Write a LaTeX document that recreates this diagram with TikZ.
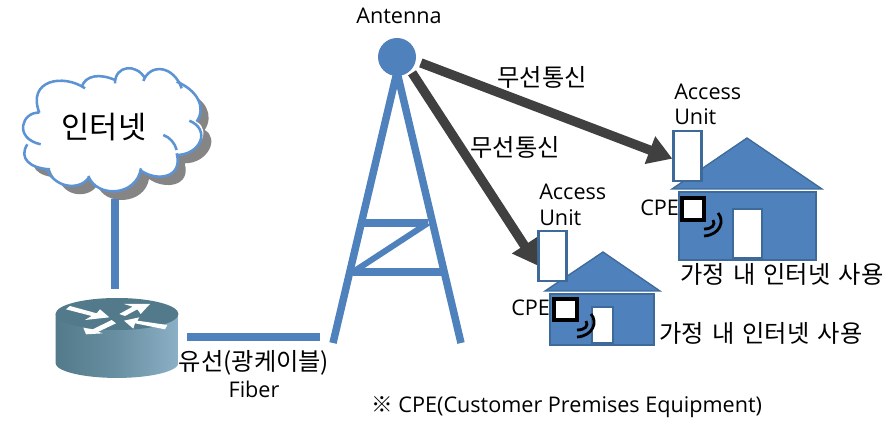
\documentclass[tikz,border=0pt]{standalone}
\usepackage{fontspec}
\setmainfont{Open Sans}
\newfontfamily\kr[WordSpace=1.5]{Noto Sans CJK KR}
\usetikzlibrary{arrows.meta,shadings}
\definecolor{hblue}{HTML}{4F81BD}
\definecolor{hedge}{HTML}{3E6A9A}
\definecolor{cloudedge}{HTML}{5B93D5}
\definecolor{dark}{HTML}{404040}
\definecolor{shadowgray}{HTML}{858585}
\definecolor{rl}{HTML}{527A8A}
\definecolor{rr}{HTML}{8CB0C6}
\tikzset{
  wire/.style={draw=hblue,line width=5.6pt},
  radio/.style={draw=dark,line width=7pt,-{Triangle[length=18pt,width=21pt]}},
  unitbox/.style={draw=hedge,fill=white,line width=1.7pt,minimum width=21pt,minimum height=37pt,inner sep=0pt},
  lbl/.style={font=\fontsize{16.2}{19}\selectfont,inner sep=0pt,text=black},
  korlbl/.style={font=\fontsize{18.2}{22}\selectfont\kr,inner sep=0pt,text=black},
  roof/.style={fill=hblue,draw=hedge,line width=1pt,line join=miter},
  wall/.style={fill=hblue,draw=hedge,line width=1.5pt},
  door/.style={fill=white,draw=hedge,line width=1.8pt},
  cpebox/.style={fill=white,draw=black,line width=2.4pt},
  wave/.style={draw=black,line width=2.1pt}
}
\newcommand{\cloudpath}{(118,188)
 .. controls (65,185) and (40,265) .. (122,283)
 (82,283) .. controls (55,325) and (90,355) .. (150,358)
 (140,358) .. controls (170,420) and (245,420) .. (268,380)
 (265,378) .. controls (290,445) and (410,440) .. (423,355)
 (423,362) .. controls (470,395) and (550,385) .. (530,310)
 (530,300) .. controls (525,280) and (510,262) .. (490,255)
 (530,315) .. controls (600,315) and (635,240) .. (568,212)
 (590,215) .. controls (620,170) and (590,120) .. (530,95)
 (545,115) .. controls (520,45) and (450,40) .. (430,93)
 (435,85) .. controls (410,40) and (345,45) .. (345,100)
 (345,90) .. controls (300,70) and (255,75) .. (245,112)
 (255,115) .. controls (190,70) and (80,90) .. (118,188)}
\newcommand{\cloudfill}{(118,188)
 .. controls (65,185) and (40,265) .. (90,283)
 .. controls (55,325) and (90,355) .. (150,358)
 .. controls (170,420) and (245,420) .. (268,380)
 .. controls (290,445) and (410,440) .. (423,362)
 .. controls (470,395) and (550,385) .. (530,315)
 .. controls (600,315) and (635,240) .. (590,215)
 .. controls (620,170) and (590,120) .. (540,105)
 .. controls (520,45) and (450,40) .. (432,90)
 .. controls (410,40) and (345,45) .. (345,95)
 .. controls (300,70) and (255,75) .. (250,113)
 .. controls (190,70) and (80,90) .. (118,188) -- cycle}
\newcommand{\wavepair}{%
  \draw[wave] (718,213) .. controls (725,221) and (720,235) .. (704,236);
  \draw[wave] (713,220) .. controls (716,225) and (712,229) .. (704,229);}
\begin{document}
\begin{tikzpicture}[x=0.75pt,y=-0.75pt]
\useasboundingbox (0,0) rectangle (889,427);
\fill[white] (0,0) rectangle (889,427);

% cloud
\begin{scope}[shift={(0,50)},scale=1/3]
  \fill[shadowgray] [shift={(24,25)}] \cloudfill;
  \fill[white] \cloudfill;
  \draw[cloudedge,line width=1.9pt] \cloudpath;
\end{scope}
\node[font=\fontsize{23}{26}\selectfont\kr,inner sep=0pt] (cloud) at (104,127) {인터넷};

% uplink
\coordinate (cloudfoot) at (115,199);
\coordinate (routertop) at (115,289);
\draw[wire] (cloudfoot) -- (routertop);

% router
\path[left color=rl,right color=rr,middle color=rl!60!rr] (55.5,314) -- (55.5,363) arc[start angle=180,end angle=360,x radius=46.1pt,y radius=11.2pt] -- (178.5,314) -- cycle;
\fill[rl] (117,314) ellipse [x radius=46.1pt,y radius=12pt];
\begin{scope}[shift={(50,290)},scale=1/3]
  \fill[white] (48,58) -- (60,48) -- (140,70) -- (150,58) -- (178,82) -- (105,90) -- (125,78) -- cycle;
  \fill[white] (208,72) -- (248,50) -- (222,42) -- (300,42) -- (272,72) -- (262,58) -- (225,78) -- cycle;
  \fill[white] (222,92) -- (268,82) -- (262,92) -- (352,105) -- (345,118) -- (255,100) -- (250,116) -- cycle;
  \fill[white] (185,90) -- (198,100) -- (145,125) -- (158,130) -- (108,133) -- (100,113) -- (128,118) -- cycle;
\end{scope}

% fibre
\coordinate (fibreA) at (187,337);
\coordinate (fibreB) at (320,337);
\draw[wire] (fibreA) -- (fibreB);

% tower
\node[circle,fill=hblue,draw=none,minimum size=28.5pt,inner sep=0pt] (antenna) at (397,57) {};
\coordinate (legL) at (333,343);
\coordinate (legR) at (461,343);
\coordinate (b1L) at (363,223);
\coordinate (b1R) at (428,223);
\coordinate (b2L) at (353,272);
\coordinate (b2R) at (443,272);
\draw[wire] (antenna.center) ++(0,15) -- (legL);
\draw[wire] (antenna.center) ++(0,15) -- (legR);
\draw[wire] (b1L) -- (b1R);
\draw[wire] (b2L) -- (b2R);
\draw[wire,line width=4.5pt] (b1R) -- (b2L);

% house 1
\path[roof] (747,138) -- (822,189) -- (672,189) -- cycle;
\path[wall] (679,192) rectangle (816,260);
\path[door] (733,209) rectangle (762,258);
\path[cpebox] (682,198) rectangle (704,220);
\wavepair
\node[unitbox] (au1) at (687.5,156) {};

% house 2
\path[roof] (603,252) -- (660,291) -- (545,291) -- cycle;
\path[wall] (550,294) rectangle (654,345);
\path[door] (592,307) rectangle (613,343);
\path[cpebox] (554,299) rectangle (577,320);
\begin{scope}[shift={(-127,101)}]\wavepair\end{scope}
\node[unitbox] (au2) at (552.5,256) {};

% wireless links
\draw[radio,shorten <=4pt] (antenna.-12) -- (au1.190);
\draw[radio,shorten <=2pt] (antenna.-45) -- (au2.212);

% labels
\node[lbl,anchor=base] (t1) at (399,24) {Antenna};
\node[korlbl] (t2) at (542,77) {무선통신};
\node[korlbl] (t3) at (515,147) {무선통신};
\node[lbl,anchor=base west] (t4) at (674,100) {Access};
\node[lbl,anchor=base west] (t5) at (674,125) {Unit};
\node[lbl,anchor=base west] (t6) at (539,200) {Access};
\node[lbl,anchor=base west] (t7) at (539,226) {Unit};
\node[lbl,anchor=base west] (t8) at (640,216) {CPE};
\node[lbl,anchor=base west] (t9) at (511,316) {CPE};
\node[korlbl,anchor=west] (t10) at (680,274) {가정 내 인터넷 사용};
\node[korlbl,anchor=west] (t11) at (659,333) {가정 내 인터넷 사용};
\node[korlbl] (t12) at (254,363) {유선(광케이블)};
\node[lbl,anchor=base] (t13) at (254,398) {Fiber};
\node[lbl,anchor=base west] (t14) at (371,413) {{\kr ※} CPE(Customer Premises Equipment)};
\end{tikzpicture}
\end{document}
